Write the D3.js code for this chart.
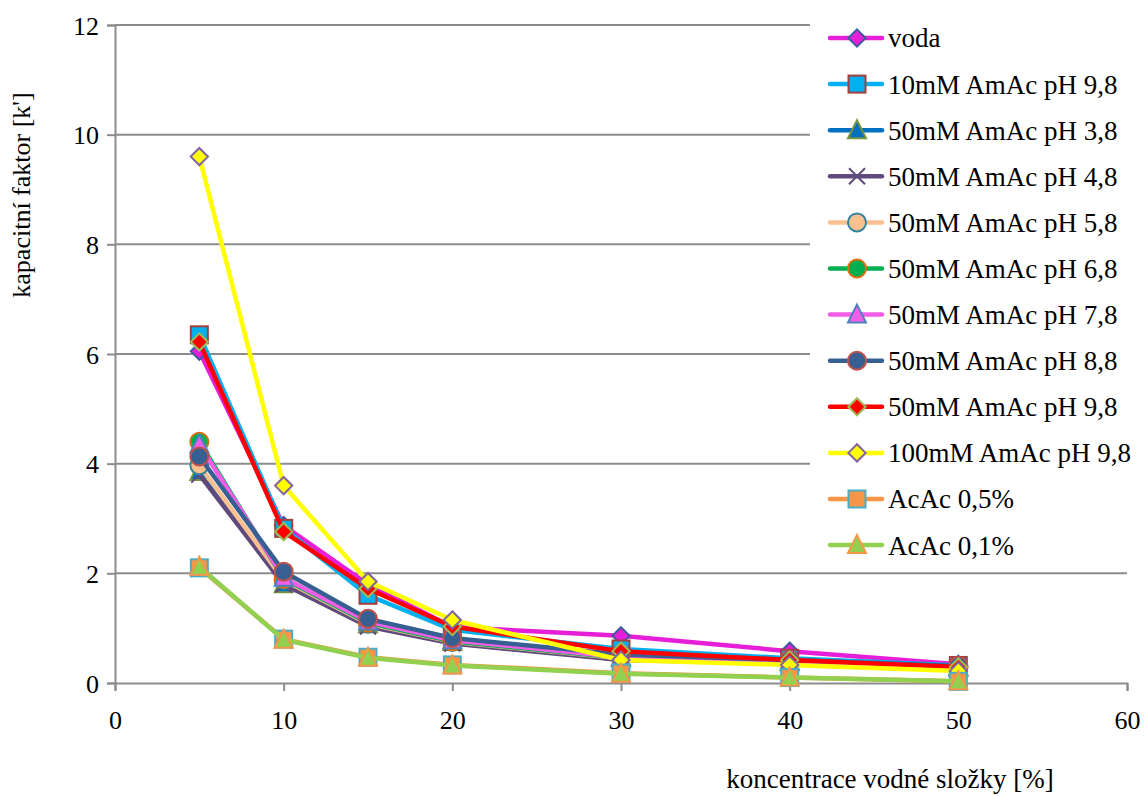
<!DOCTYPE html>
<html>
<head>
<meta charset="utf-8">
<script src="https://cdn.jsdelivr.net/npm/d3@7"></script>
<style>
  html, body { margin: 0; padding: 0; background: #fff; }
  svg { display: block; }
  svg text { font-family: "Liberation Serif", Tinos, "Times New Roman", "DejaVu Serif", serif !important; fill: #000; }
</style>
</head>
<body>
<svg id="chart" width="1144" height="796"></svg>
<script>
// ---- data ----
const xValues = [5, 10, 15, 20, 30, 40, 50];
const seriesNames = [
  "voda", "10mM AmAc pH 9,8", "50mM AmAc pH 3,8", "50mM AmAc pH 4,8",
  "50mM AmAc pH 5,8", "50mM AmAc pH 6,8", "50mM AmAc pH 7,8", "50mM AmAc pH 8,8",
  "50mM AmAc pH 9,8", "100mM AmAc pH 9,8", "AcAc 0,5%", "AcAc 0,1%"
];
const voda      = [6.05, 2.87, 1.80, 1.02, 0.86, 0.58, 0.34];
const amac10_98 = [6.35, 2.82, 1.60, 0.97, 0.62, 0.45, 0.32];
const amac50_38 = [3.85, 1.80, 1.07, 0.75, 0.45, 0.38, 0.28];
const amac50_48 = [3.80, 1.80, 1.03, 0.72, 0.42, 0.36, 0.27];
const amac50_58 = [3.97, 1.88, 1.08, 0.75, 0.45, 0.38, 0.28];
const amac50_68 = [4.40, 1.90, 1.10, 0.76, 0.46, 0.38, 0.28];
const amac50_78 = [4.35, 1.92, 1.12, 0.78, 0.47, 0.39, 0.29];
const amac50_88 = [4.13, 2.03, 1.17, 0.82, 0.52, 0.42, 0.31];
const amac50_98 = [6.22, 2.76, 1.72, 1.03, 0.58, 0.42, 0.29];
const amac100_98 = [9.60, 3.60, 1.85, 1.15, 0.42, 0.33, 0.22];
const acac05    = [2.10, 0.80, 0.47, 0.33, 0.18, 0.10, 0.03];
const acac01    = [2.12, 0.79, 0.46, 0.32, 0.17, 0.10, 0.03];
const seriesValues = [voda, amac10_98, amac50_38, amac50_48, amac50_58, amac50_68,
  amac50_78, amac50_88, amac50_98, amac100_98, acac05, acac01];
const xTicks = [0, 10, 20, 30, 40, 50, 60];
const yTicks = [0, 2, 4, 6, 8, 10, 12];
const xTitle = "koncentrace vodné složky [%]";
const yTitle = "kapacitní faktor [k']";

// ---- styles ----
const lineColors = ["#e61ed8", "#00b0f0", "#0070c0", "#604a7b", "#fac090", "#00b050",
  "#f35ee8", "#376092", "#ff0000", "#ffff00", "#f79646", "#92d050"];
const markerFill = ["#e61ed8", "#00b0f0", "#0070c0", "none", "#fac090", "#00b050",
  "#f35ee8", "#376092", "#ff0000", "#ffff00", "#f79646", "#92d050"];
const markerStroke = ["#3d5a9a", "#a33f3f", "#77933c", "#604a7b", "#31859c", "#e46c0a",
  "#4f81bd", "#c0504d", "#9bbb59", "#8064a2", "#4bacc6", "#f79646"];
const markerShape = ["diamond", "square", "triangle", "x", "circle", "circle",
  "triangle", "circle", "diamond", "diamond", "square", "triangle"];

const FONT = '"Liberation Serif", Tinos, "Times New Roman", "DejaVu Serif", serif';
const svg = d3.select("#chart");
const plotL = 115, plotR = 1127, plotT = 25, plotB = 683;
const x = d3.scaleLinear().domain([0, 60]).range([plotL, plotR]);
const y = d3.scaleLinear().domain([0, 12]).range([plotB, plotT]);
const gridColor = "#8c8c8c";

// gridlines
svg.append("g").selectAll("line").data(yTicks.filter(d => d > 0)).join("line")
  .attr("x1", plotL).attr("x2", plotR)
  .attr("y1", d => y(d)).attr("y2", d => y(d))
  .attr("stroke", gridColor).attr("stroke-width", 2);

// legend background (covers gridlines)
svg.append("rect").attr("x", 810).attr("y", 14).attr("width", 334).attr("height", 553)
  .attr("fill", "#fff");

// axes
const xAxis = svg.append("g").attr("transform", `translate(0,${plotB})`)
  .call(d3.axisBottom(x).tickValues(xTicks).tickSize(8).tickPadding(20).tickFormat(d3.format("d")));
const yAxis = svg.append("g").attr("transform", `translate(${plotL},0)`)
  .call(d3.axisLeft(y).tickValues(yTicks).tickSize(8).tickPadding(8).tickFormat(d3.format("d")));
[xAxis, yAxis].forEach(a => {
  a.attr("font-family", FONT).attr("font-size", 26);
  a.select(".domain").attr("stroke", gridColor).attr("stroke-width", 2);
  a.selectAll(".tick line").attr("stroke", gridColor).attr("stroke-width", 2);
  a.selectAll(".tick text").attr("fill", "#000");
});
xAxis.selectAll(".tick text").attr("dy", "0.71em");
yAxis.selectAll(".tick text").attr("dy", "0.35em");

// axis titles
svg.append("text").attr("x", 890).attr("y", 788).attr("font-family", FONT)
  .attr("text-anchor", "middle").attr("font-size", 27).text(xTitle);
svg.append("text").attr("transform", "translate(30,195) rotate(-90)").attr("font-family", FONT)
  .attr("text-anchor", "middle").attr("font-size", 26).text(yTitle);

// marker drawing helper
function drawMarker(g, shape, fill, stroke, cx, cy) {
  if (shape === "diamond") {
    g.append("path").attr("d", d3.symbol(d3.symbolDiamond2, 190)())
      .attr("transform", `translate(${cx},${cy})`)
      .attr("fill", fill).attr("stroke", stroke).attr("stroke-width", 2);
  } else if (shape === "square") {
    g.append("rect").attr("x", cx - 8.5).attr("y", cy - 8.5).attr("width", 17).attr("height", 17)
      .attr("fill", fill).attr("stroke", stroke).attr("stroke-width", 2);
  } else if (shape === "triangle") {
    g.append("path").attr("d", `M${cx},${cy - 10}L${cx + 9},${cy + 8}L${cx - 9},${cy + 8}Z`)
      .attr("fill", fill).attr("stroke", stroke).attr("stroke-width", 2);
  } else if (shape === "circle") {
    g.append("circle").attr("cx", cx).attr("cy", cy).attr("r", 9)
      .attr("fill", fill).attr("stroke", stroke).attr("stroke-width", 2);
  } else if (shape === "x") {
    g.append("path").attr("d", `M${cx - 8},${cy - 8}L${cx + 8},${cy + 8}M${cx - 8},${cy + 8}L${cx + 8},${cy - 8}`)
      .attr("stroke", stroke).attr("stroke-width", 2).attr("fill", "none");
  }
}

// series
const line = d3.line().x(d => x(d[0])).y(d => y(d[1]));
seriesValues.forEach((vals, i) => {
  const g = svg.append("g");
  const pts = xValues.map((xv, j) => [xv, vals[j]]);
  g.append("path").attr("d", line(pts)).attr("fill", "none")
    .attr("stroke", lineColors[i]).attr("stroke-width", 4.5).attr("stroke-linejoin", "round");
  pts.forEach(p => drawMarker(g, markerShape[i], markerFill[i], markerStroke[i], x(p[0]), y(p[1])));
});

// legend
const legY0 = 38, legStep = 46.1;
seriesNames.forEach((name, i) => {
  const g = svg.append("g");
  const ly = legY0 + i * legStep;
  g.append("line").attr("x1", 830).attr("x2", 882).attr("y1", ly).attr("y2", ly)
    .attr("stroke", lineColors[i]).attr("stroke-width", 4.5).attr("stroke-linecap", "round");
  drawMarker(g, markerShape[i], markerFill[i], markerStroke[i], 857, ly);
  g.append("text").attr("x", 888).attr("y", ly).attr("dy", "0.35em").attr("font-family", FONT)
    .attr("font-size", 27).text(name);
});
</script>
</body>
</html>
